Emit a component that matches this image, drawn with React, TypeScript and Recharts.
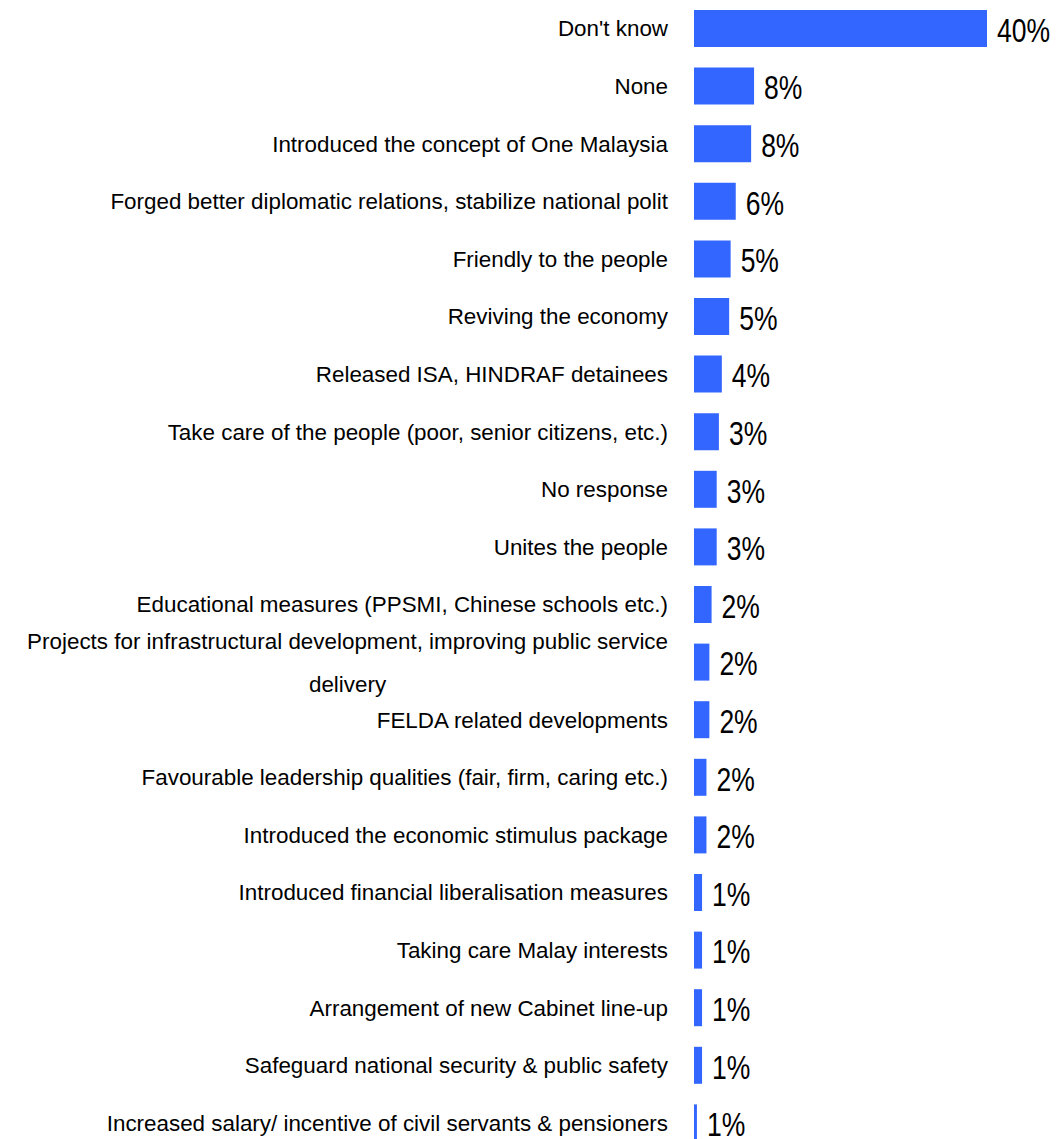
import { BarChart, Bar, XAxis, YAxis, LabelList } from 'recharts';

const categories = [
    "Don't know",
    "None",
    "Introduced the concept of One Malaysia",
    "Forged better diplomatic relations, stabilize national polit",
    "Friendly to the people",
    "Reviving the economy",
    "Released ISA, HINDRAF detainees",
    "Take care of the people (poor, senior citizens, etc.)",
    "No response",
    "Unites the people",
    "Educational measures (PPSMI, Chinese schools etc.)",
    "Projects for infrastructural development, improving public service delivery",
    "FELDA related developments",
    "Favourable leadership qualities (fair, firm, caring etc.)",
    "Introduced the economic stimulus package",
    "Introduced financial liberalisation measures",
    "Taking care Malay interests",
    "Arrangement of new Cabinet line-up",
    "Safeguard national security & public safety",
    "Increased salary/ incentive of civil servants & pensioners",
];

const shares = [40, 8.2, 7.8, 5.7, 5.0, 4.8, 3.8, 3.4, 3.1, 3.1, 2.4, 2.1, 2.1, 1.7, 1.7, 1.1, 1.1, 1.1, 1.1, 0.4];

const shareLabels = ["40%", "8%", "8%", "6%", "5%", "5%", "4%", "3%", "3%", "3%", "2%", "2%", "2%", "2%", "2%", "1%", "1%", "1%", "1%", "1%"];

const data = categories.map((category, i) => ({ category, share: shares[i], label: shareLabels[i] }));

const LABEL_FONT = '"Liberation Sans", Arial, sans-serif';
const LABEL_SIZE = 22.4;

// greedy wrap on words, max chars per line
function wrap(text: string, max: number) {
    const lines: string[] = [];
    let cur = '';
    for (const w of text.split(' ')) {
        const next = cur ? cur + ' ' + w : w;
        if (next.length > max && cur) {
            lines.push(cur);
            cur = w;
        } else {
            cur = next;
        }
    }
    if (cur) lines.push(cur);
    return lines;
}

function measure(text: string) {
    const ctx = document.createElement('canvas').getContext('2d');
    if (!ctx) return text.length * 10;
    ctx.font = `${LABEL_SIZE}px ${LABEL_FONT}`;
    return ctx.measureText(text).width;
}

function CategoryTick({ x, y, payload }: any) {
    const lines = wrap(payload.value, 66);
    if (lines.length === 1) {
        return (
            <text x={x} y={y} textAnchor="end" dominantBaseline="central" fill="#000"
                fontFamily={LABEL_FONT} fontSize={LABEL_SIZE}>
                {lines[0]}
            </text>
        );
    }
    const w = measure(lines[0]);
    return (
        <g>
            <text x={x} y={y - 21} textAnchor="end" dominantBaseline="central" fill="#000"
                fontFamily={LABEL_FONT} fontSize={LABEL_SIZE}>
                {lines[0]}
            </text>
            {lines.slice(1).map((l, i) => (
                <text key={i} x={x - w / 2} y={y + 22 + i * 43} textAnchor="middle" dominantBaseline="central"
                    fill="#000" fontFamily={LABEL_FONT} fontSize={LABEL_SIZE}>
                    {l}
                </text>
            ))}
        </g>
    );
}

// value label, drawn a bit taller than wide like the original
function ShareLabel({ x, y, width, height, value }: any) {
    const tx = Number(x) + Number(width) + 10;
    const ty = Number(y) + Number(height) / 2 + 1;
    return (
        <text transform={`translate(${tx},${ty}) scale(1,1.28)`} dominantBaseline="central" fill="#000"
            fontFamily={LABEL_FONT} fontSize={26.5}>
            {value}
        </text>
    );
}

export default function App() {
    return (
        <div style={{ position: 'absolute', left: 0, top: 0, width: 1058, height: 1139, overflow: 'hidden', background: '#fff' }}>
            <BarChart width={1058} height={1152} data={data} layout="vertical"
                margin={{ top: 0, right: 71, left: 0, bottom: 0 }} barSize={37}>
                <XAxis type="number" domain={[0, 40]} hide />
                <YAxis type="category" dataKey="category" width={694} axisLine={false} tickLine={false}
                    tickSize={0} tickMargin={26} interval={0} tick={<CategoryTick />} />
                <Bar dataKey="share" fill="#3366FF" isAnimationActive={false}>
                    <LabelList dataKey="label" content={<ShareLabel />} />
                </Bar>
            </BarChart>
        </div>
    );
}
